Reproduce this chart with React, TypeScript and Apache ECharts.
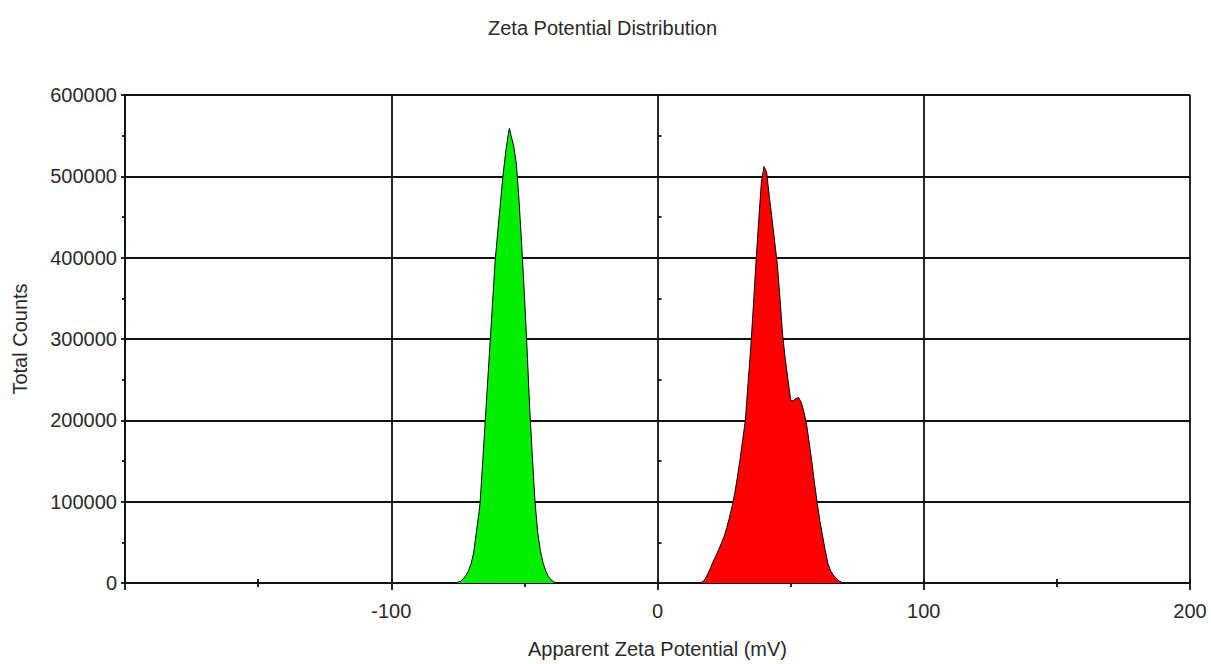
import React, { useEffect, useRef } from "react";
import * as echarts from "echarts";

const titleText = "Zeta Potential Distribution";
const xName = "Apparent Zeta Potential (mV)";
const yName = "Total Counts";

// Green distribution (mV, counts)
const greenX = [-76, -75, -74, -73, -72, -71, -70, -69, -68.5, -68, -67, -66.6, -66, -65, -64, -63, -62, -61, -60, -59, -58, -57, -56, -55.6, -55, -54, -53, -52, -51, -50, -49, -48, -47, -46, -45, -44, -43, -42, -41, -40, -39, -38];
const greenY = [0, 1000, 2000, 5000, 9000, 15000, 24000, 38000, 51000, 63000, 88000, 100000, 131000, 183000, 237000, 289000, 342000, 395000, 432000, 467000, 502000, 530000, 553000, 559000, 550000, 537000, 515000, 470000, 415000, 355000, 288000, 215000, 155000, 100000, 62000, 40000, 25000, 15000, 8000, 4000, 1500, 0];

// Red distribution (mV, counts)
const redX = [16, 17, 18, 19, 20, 21, 22, 23, 24, 25, 26, 27, 28, 29, 30, 31, 32, 33, 34, 35, 36, 37, 38, 39, 40, 41, 42, 43, 44, 45, 46, 47, 48, 49, 50, 51, 52, 53, 54, 55, 56, 57, 58, 59, 60, 61, 62, 63, 64, 65, 66, 67, 68, 69, 70];
const redY = [0, 1500, 5500, 12000, 19000, 27000, 34000, 41000, 49000, 57000, 68000, 80000, 94000, 110000, 130000, 152000, 176000, 200000, 245000, 288000, 340000, 395000, 445000, 492000, 512000, 505000, 475000, 448000, 420000, 392000, 350000, 305000, 275000, 250000, 225000, 224000, 227000, 228000, 222000, 210000, 195000, 172000, 148000, 122000, 98000, 76000, 58000, 40000, 24000, 15000, 10000, 6000, 3000, 1000, 0];

const xMin = -200, xMax = 200, xStep = 100;
const yMin = 0, yMax = 600000, yStep = 100000;

const FONT = "'Liberation Sans', Arial, sans-serif";
const TXT = "#2a2a2a";
const LINE = "#111";
const LW = 1.8;

export default function App() {
  const ref = useRef<HTMLDivElement>(null);
  useEffect(() => {
    if (!ref.current) return;
    const chart = echarts.init(ref.current, undefined, { renderer: "svg" });
    const green = greenX.map((x, i) => [x, greenY[i]]);
    const red = redX.map((x, i) => [x, redY[i]]);
    chart.setOption({
      animation: false,
      backgroundColor: "#fff",
      textStyle: { fontFamily: FONT },
      title: {
        text: titleText,
        left: 483,
        top: 13,
        textStyle: { fontFamily: FONT, fontSize: 20, fontWeight: "normal", color: TXT },
      },
      grid: { left: 125, right: 21, top: 95, bottom: 79, containLabel: false },
      xAxis: [
        {
          type: "value",
          min: xMin,
          max: xMax,
          interval: xStep,
          name: xName,
          nameLocation: "middle",
          nameGap: 56,
          nameTextStyle: { fontFamily: FONT, fontSize: 20, color: TXT },
          axisLine: { show: true, onZero: false, lineStyle: { color: LINE, width: LW } },
          axisTick: { show: true, length: 7, lineStyle: { color: LINE, width: LW } },
          minorTick: { show: true, splitNumber: 2, length: 4, lineStyle: { color: LINE, width: LW } },
          axisLabel: {
            fontFamily: FONT,
            fontSize: 20,
            color: TXT,
            margin: 18,
            formatter: (v: number) => (v === xMin ? "" : String(v)),
          },
          splitLine: { show: true, lineStyle: { color: LINE, width: LW } },
        },
        {
          type: "value",
          min: xMin,
          max: xMax,
          interval: xStep / 2,
          position: "bottom",
          axisLine: { show: false },
          axisTick: { show: true, inside: true, length: 4, lineStyle: { color: LINE, width: LW } },
          axisLabel: { show: false },
          splitLine: { show: false },
        },
      ],
      yAxis: [
        {
          type: "value",
          min: yMin,
          max: yMax,
          interval: yStep,
          name: yName,
          nameLocation: "middle",
          nameGap: 95,
          nameTextStyle: { fontFamily: FONT, fontSize: 20, color: TXT },
          axisLine: { show: true, onZero: false, lineStyle: { color: LINE, width: LW } },
          axisTick: { show: true, length: 4, lineStyle: { color: LINE, width: LW } },
          minorTick: { show: true, splitNumber: 2, length: 3, lineStyle: { color: LINE, width: LW } },
          axisLabel: {
            fontFamily: FONT,
            fontSize: 20,
            color: TXT,
            margin: 8,
            formatter: (v: number) => String(v),
          },
          splitLine: { show: true, lineStyle: { color: LINE, width: LW } },
        },
        {
          type: "value",
          min: yMin,
          max: yMax,
          interval: yStep / 2,
          position: "left",
          axisLine: { show: false },
          axisTick: { show: true, inside: true, length: 4, lineStyle: { color: LINE, width: LW } },
          axisLabel: { show: false },
          splitLine: { show: false },
        },
      ],
      series: [
        {
          type: "line",
          name: "green",
          data: green,
          xAxisIndex: 0,
          yAxisIndex: 0,
          symbol: "none",
          lineStyle: { color: "#000", width: 1 },
          areaStyle: { color: "#00ee00", opacity: 1 },
          z: 3,
        },
        {
          type: "line",
          name: "red",
          data: red,
          xAxisIndex: 0,
          yAxisIndex: 0,
          symbol: "none",
          lineStyle: { color: "#000", width: 1 },
          areaStyle: { color: "#ff0000", opacity: 1 },
          z: 3,
        },
      ],
    });
    return () => chart.dispose();
  }, []);
  return (
    <div
      ref={ref}
      style={{ position: "fixed", left: 0, top: 0, width: 1211, height: 664, background: "#fff" }}
    />
  );
}
